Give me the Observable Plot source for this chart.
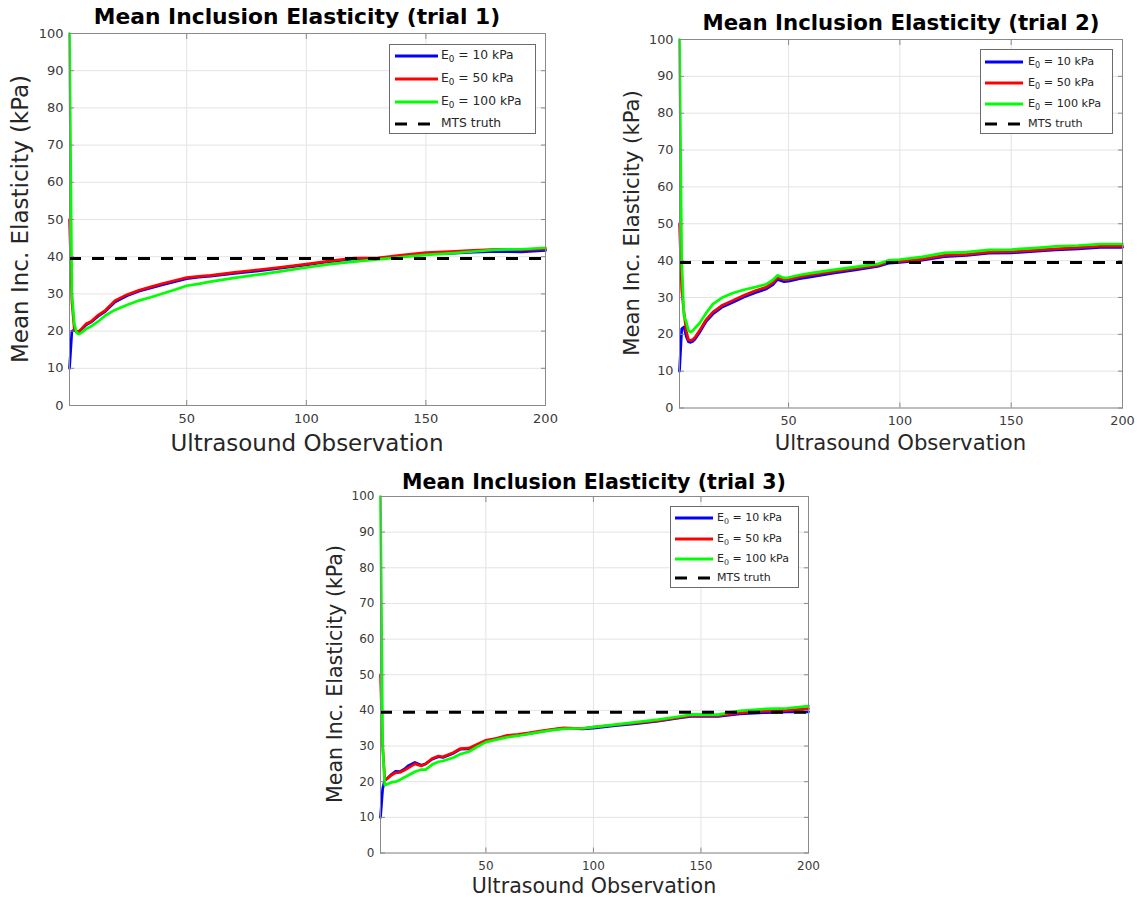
<!DOCTYPE html>
<html><head><meta charset="utf-8">
<script src="https://cdn.jsdelivr.net/npm/d3@7"></script>
<script src="https://cdn.jsdelivr.net/npm/@observablehq/plot@0.6"></script>
<style>
body{margin:0;background:#fff;font-family:"DejaVu Sans",sans-serif;}
#root{position:relative;width:1140px;height:900px;overflow:hidden;background:#fff;}
.abs{position:absolute;}
.title{font-weight:bold;color:#000;white-space:nowrap;transform:translate(-50%,-50%);line-height:1;}
.xlabel{color:#262626;white-space:nowrap;transform:translate(-50%,-50%);line-height:1;}
.ylabel{color:#262626;white-space:nowrap;transform:translate(-50%,-50%) rotate(-90deg);line-height:1;}
.legend{background:#fff;border:1px solid #6b6b6b;box-sizing:border-box;color:#262626;}
.legend .row{position:absolute;left:0;white-space:nowrap;line-height:1;}
.legend sub{font-size:0.72em;vertical-align:-0.35em;line-height:0;}
</style></head><body><div id="root"></div><script>
// ---- data ----
const seriesNames = ["E0 = 10 kPa", "E0 = 50 kPa", "E0 = 100 kPa"];
const seriesColors = ["#0000ff", "#ff0000", "#00ff00"];
const mtsTruth = 39.5;
const xTicks = [50, 100, 150, 200];
const yTicks = [0, 10, 20, 30, 40, 50, 60, 70, 80, 90, 100];

const trial1Obs  = [1, 2, 3, 4, 5, 6, 8, 10, 13, 16, 20, 25, 30, 35, 40, 45, 50, 55, 60, 70, 80, 90, 100, 110, 120, 130, 140, 150, 160, 170, 180, 190, 200];
const trial1E10  = [10, 20, 20.3, 19.8, 19.8, 20.4, 21.7, 22.4, 24.0, 25.3, 27.8, 29.5, 30.7, 31.6, 32.5, 33.3, 34.1, 34.5, 34.8, 35.5, 36.2, 37.0, 37.8, 38.7, 39.4, 39.5, 40.1, 40.8, 40.9, 41.2, 41.4, 41.3, 41.7];
const trial1E50  = [50, 28, 20.5, 19.8, 20.0, 20.6, 22.0, 22.6, 24.3, 25.6, 28.2, 29.8, 31.0, 31.9, 32.8, 33.6, 34.4, 34.7, 35.0, 35.8, 36.5, 37.2, 38.0, 38.9, 39.6, 39.7, 40.4, 41.1, 41.4, 41.7, 42.0, 41.8, 42.1];
const trial1E100 = [100, 30, 22, 19.5, 19.2, 19.6, 20.6, 21.3, 22.6, 24.2, 25.7, 27.0, 28.2, 29.1, 30.1, 31.1, 32.2, 32.7, 33.3, 34.3, 35.2, 36.1, 37.1, 38.0, 38.7, 39.3, 39.9, 40.5, 40.9, 41.4, 41.9, 42.0, 42.4];

const trial2Obs  = [1, 2, 3, 4, 5, 6, 7, 8, 10, 13, 16, 20, 25, 30, 35, 40, 43, 45, 48, 50, 55, 60, 70, 80, 90, 95, 100, 110, 120, 130, 140, 150, 160, 170, 180, 190, 200];
const trial2E10  = [10, 21.5, 22, 19.5, 18, 17.8, 18.1, 18.7, 20.5, 23.5, 25.5, 27.3, 28.7, 30.1, 31.3, 32.3, 33.5, 34.9, 34.3, 34.4, 35.1, 35.6, 36.6, 37.5, 38.4, 39.3, 39.5, 40.1, 41.1, 41.4, 42.0, 42.1, 42.5, 42.9, 43.2, 43.6, 43.6];
const trial2E50  = [50, 32, 26, 21, 18.5, 18.3, 18.6, 19.2, 21.0, 24.0, 26.0, 27.8, 29.2, 30.6, 31.8, 32.8, 34.0, 35.4, 34.8, 34.9, 35.6, 36.1, 37.0, 37.9, 38.7, 39.6, 39.8, 40.4, 41.4, 41.7, 42.3, 42.4, 42.8, 43.2, 43.5, 43.9, 43.9];
const trial2E100 = [100, 40, 25, 23.5, 21.0, 20.6, 21.0, 21.7, 23.0, 25.8, 28.2, 29.9, 31.2, 32.1, 32.8, 33.6, 34.8, 36.0, 35.3, 35.4, 36.1, 36.6, 37.5, 38.3, 39.1, 40.1, 40.3, 41.0, 42.1, 42.3, 42.9, 43.0, 43.4, 43.9, 44.1, 44.5, 44.5];

const trial3Obs  = [1, 2, 3, 4, 6, 8, 10, 12, 14, 17, 20, 22, 25, 28, 30, 35, 38, 42, 46, 50, 55, 60, 65, 70, 75, 80, 86, 95, 100, 110, 120, 130, 140, 146, 158, 168, 180, 190, 200];
const trial3E10  = [10, 18, 20.5, 20.8, 22.0, 22.9, 22.8, 23.5, 24.5, 25.4, 24.6, 25.0, 26.3, 27.0, 26.8, 28.0, 29.1, 29.2, 30.3, 31.4, 32.0, 32.8, 33.1, 33.5, 34.0, 34.5, 35.0, 34.8, 35.0, 35.7, 36.3, 37.0, 37.9, 38.4, 38.3, 39.0, 39.4, 39.6, 39.6];
const trial3E50  = [50, 30, 20.4, 20.8, 21.8, 22.5, 22.6, 23.2, 23.9, 25.0, 24.4, 25.0, 26.5, 27.2, 27.0, 28.2, 29.3, 29.4, 30.5, 31.6, 32.2, 33.0, 33.3, 33.7, 34.2, 34.6, 35.1, 34.9, 35.3, 35.9, 36.5, 37.1, 38.0, 38.6, 38.5, 39.3, 39.8, 40.0, 40.5];
const trial3E100 = [100, 30, 19.0, 19.3, 19.8, 20.0, 20.5, 21.2, 21.8, 22.8, 23.4, 23.4, 24.8, 25.6, 25.8, 26.8, 27.7, 28.4, 29.8, 31.1, 31.8, 32.5, 32.9, 33.4, 33.9, 34.4, 34.8, 35.0, 35.3, 36.0, 36.7, 37.4, 38.3, 38.9, 38.8, 39.9, 40.4, 40.6, 41.2];

const titles = ["Mean Inclusion Elasticity (trial 1)", "Mean Inclusion Elasticity (trial 2)", "Mean Inclusion Elasticity (trial 3)"];
const xLabel = "Ultrasound Observation";
const yLabel = "Mean Inc. Elasticity (kPa)";

// ---- layout ----
const panels = [
  {title: titles[0], obs: trial1Obs, series: [trial1E10, trial1E50, trial1E100],
   frame: {left: 69, top: 33, right: 545, bottom: 405},
   titleX: 297, titleY: 17, titleSize: 21.8, labelSize: 23, xLabelY: 443, yLabelX: 20, tickFont: 13,
   legend: {left: 389, top: 44, width: 147, height: 90, font: 12.3, rows: [12, 35, 58, 80], x0: 6, x1: 49, tx: 52}},
  {title: titles[1], obs: trial2Obs, series: [trial2E10, trial2E50, trial2E100],
   frame: {left: 679, top: 39, right: 1122, bottom: 407.5},
   titleX: 901, titleY: 23, titleSize: 21.3, labelSize: 21.2, xLabelY: 443, yLabelX: 632, tickFont: 12.8,
   legend: {left: 980, top: 49, width: 133, height: 85, font: 11.2, rows: [13, 34, 55, 75], x0: 5, x1: 43, tx: 48}},
  {title: titles[2], obs: trial3Obs, series: [trial3E10, trial3E50, trial3E100],
   frame: {left: 380, top: 496, right: 808, bottom: 852.5},
   titleX: 594, titleY: 482, titleSize: 20.6, labelSize: 20.6, xLabelY: 886, yLabelX: 335, tickFont: 12,
   legend: {left: 670, top: 506, width: 129, height: 82, font: 11, rows: [12, 33, 53, 72], x0: 5, x1: 43, tx: 47}}
];

const root = document.getElementById("root");

function addDiv(cls, html, styles) {
  const d = document.createElement("div");
  d.className = cls;
  d.innerHTML = html;
  Object.assign(d.style, styles);
  root.appendChild(d);
  return d;
}

function drawPanel(p) {
  const f = p.frame;
  const rows = [];
  seriesNames.forEach((name, i) => p.series[i].forEach((v, j) => rows.push({obs: p.obs[j], value: v, series: name})));
  const ml = 60, mt = 8, mr = 12, mb = 30;
  const axisColor = "#8a8a8a";
  const plot = Plot.plot({
    width: f.right - f.left + ml + mr,
    height: f.bottom - f.top + mt + mb,
    marginLeft: ml, marginTop: mt, marginRight: mr, marginBottom: mb,
    x: {domain: [1, 200], label: null},
    y: {domain: [0, 100], label: null},
    color: {domain: seriesNames, range: seriesColors},
    style: {fontFamily: "DejaVu Sans", fontSize: p.tickFont + "px", color: "#333", background: "transparent", overflow: "visible"},
    marks: [
      Plot.gridY({ticks: yTicks, stroke: "#e3e3e3", strokeOpacity: 1}),
      Plot.gridX({ticks: xTicks, stroke: "#e3e3e3", strokeOpacity: 1}),
      Plot.line(rows, {x: "obs", y: "value", z: "series", stroke: "series", strokeWidth: 2.7}),
      Plot.ruleY([mtsTruth], {stroke: "#000", strokeWidth: 3, strokeDasharray: "12,11"}),
      Plot.frame({stroke: axisColor}),
      Plot.axisY({ticks: yTicks, anchor: "left", label: null, tickSize: -5, tickPadding: 11, stroke: axisColor, fill: "#3a3a3a"}),
      Plot.axisY({ticks: yTicks, anchor: "right", label: null, tickSize: -5, tickFormat: () => "", stroke: axisColor}),
      Plot.axisX({ticks: xTicks, anchor: "bottom", label: null, tickSize: -5, tickPadding: 13, stroke: axisColor, fill: "#3a3a3a"}),
      Plot.axisX({ticks: xTicks, anchor: "top", label: null, tickSize: -5, tickFormat: () => "", stroke: axisColor})
    ]
  });
  Object.assign(plot.style, {position: "absolute", left: (f.left - ml) + "px", top: (f.top - mt) + "px", maxWidth: "none"});
  root.appendChild(plot);

  const cx = (f.left + f.right) / 2;
  const cy = (f.top + f.bottom) / 2;
  addDiv("abs title", p.title, {left: p.titleX + "px", top: p.titleY + "px", fontSize: p.titleSize + "px"});
  addDiv("abs xlabel", xLabel, {left: cx + "px", top: p.xLabelY + "px", fontSize: p.labelSize + "px"});
  addDiv("abs ylabel", yLabel, {left: p.yLabelX + "px", top: cy + "px", fontSize: p.labelSize + "px"});

  const L = p.legend;
  const box = addDiv("abs legend", "", {left: L.left + "px", top: L.top + "px", width: L.width + "px", height: L.height + "px", fontSize: L.font + "px"});
  const entries = [
    {html: "E<sub>0</sub> = 10 kPa", color: seriesColors[0], dash: null},
    {html: "E<sub>0</sub> = 50 kPa", color: seriesColors[1], dash: null},
    {html: "E<sub>0</sub> = 100 kPa", color: seriesColors[2], dash: null},
    {html: "MTS truth", color: "#000", dash: "12,11"}
  ];
  entries.forEach((e, i) => {
    const ns = "http://www.w3.org/2000/svg";
    const svg = document.createElementNS(ns, "svg");
    svg.setAttribute("width", L.x1 - L.x0);
    svg.setAttribute("height", 6);
    Object.assign(svg.style, {position: "absolute", left: (L.x0 - 1) + "px", top: (L.rows[i] - 4) + "px"});
    const ln = document.createElementNS(ns, "line");
    ln.setAttribute("x1", 0); ln.setAttribute("x2", L.x1 - L.x0);
    ln.setAttribute("y1", 3); ln.setAttribute("y2", 3);
    ln.setAttribute("stroke", e.color);
    ln.setAttribute("stroke-width", 3);
    if (e.dash) ln.setAttribute("stroke-dasharray", e.dash);
    svg.appendChild(ln);
    box.appendChild(svg);
    const t = document.createElement("div");
    t.className = "row";
    t.innerHTML = e.html;
    Object.assign(t.style, {left: (L.tx - 1) + "px", top: (L.rows[i] - 1 - L.font * 0.55) + "px"});
    box.appendChild(t);
  });
}

panels.forEach(drawPanel);
</script></body></html>
